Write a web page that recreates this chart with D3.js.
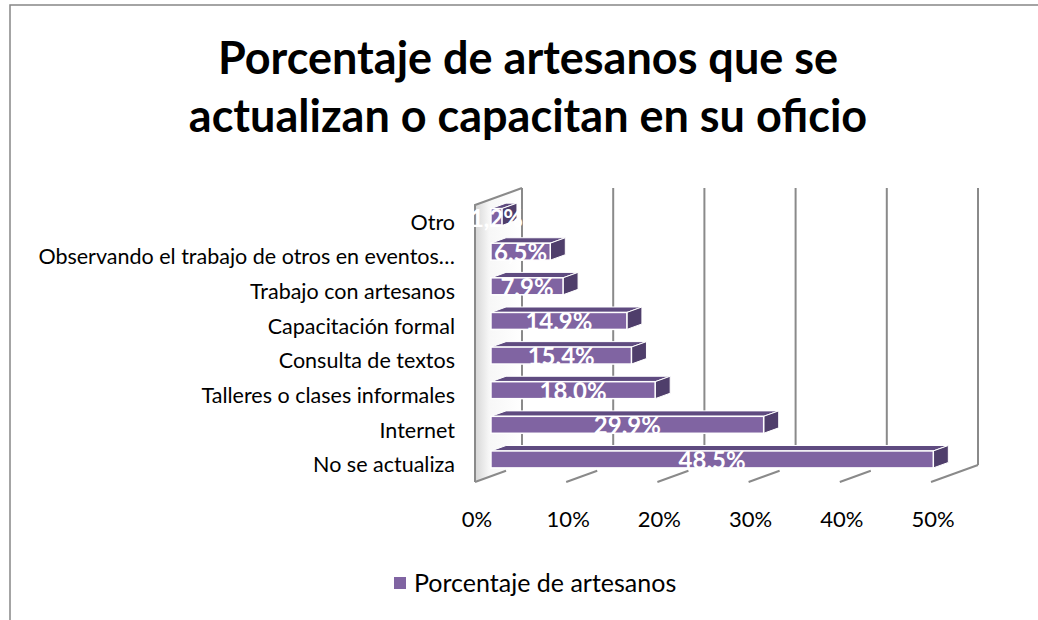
<!DOCTYPE html>
<html>
<head>
<meta charset="utf-8">
<script src="https://cdn.jsdelivr.net/npm/d3@7"></script>
<style>
  body { margin: 0; background: #fff; }
  text { font-family: Lato, "Open Sans", sans-serif; }
</style>
</head>
<body>
<div id="chart"></div>
<script>
// Data, from bottom bar to top bar (as in the reference)
var categories = ['No se actualiza', 'Internet', 'Talleres o clases informales',
    'Consulta de textos', 'Capacitación formal', 'Trabajo con artesanos',
    'Observando el trabajo de otros en eventos…', 'Otro'];
var values = [48.5, 29.9, 18.0, 15.4, 14.9, 7.9, 6.5, 1.2];
var xTicks = [0, 10, 20, 30, 40, 50];
var titleLines = ['Porcentaje de artesanos que se', 'actualizan o capacitan en su oficio'];
var seriesName = 'Porcentaje de artesanos';

var W = 1038, H = 620;
var purple = '#8064a2', purpleTop = '#5f4b80', purpleSide = '#4f3e6b', gridColor = '#8a8a8a';

var svg = d3.select('#chart').append('svg').attr('width', W).attr('height', H);

// outer chart border (cut off at right / bottom like the source)
svg.append('rect').attr('x', 10).attr('y', 5).attr('width', W + 20).attr('height', H + 20)
    .attr('fill', 'none').attr('stroke', '#878787').attr('stroke-width', 1.5);

// title
svg.append('g').selectAll('text').data(titleLines).enter().append('text')
    .attr('x', 528).attr('y', function(d, i) {return 74 + i * 58;})
    .attr('text-anchor', 'middle')
    .style('font-size', '45px').style('font-weight', 'bold').style('fill', '#000')
    .text(function(d) {return d;});

// front plane scales, depth is an oblique offset towards the back wall
var x = d3.scaleLinear().domain([0, 50]).range([475, 931]);
var y = d3.scaleBand().domain(categories.slice().reverse()).range([205, 482]);
var depthX = 47, depthY = -17;
function off(d) { return [depthX * d, depthY * d]; }

var yTop = y.range()[0], yBot = y.range()[1];

// left side wall with a soft grey shade
var defs = svg.append('defs');
var grad = defs.append('linearGradient').attr('id', 'wallShade')
    .attr('x1', '0%').attr('x2', '100%').attr('y1', '0%').attr('y2', '0%');
grad.append('stop').attr('offset', '0%').attr('stop-color', '#d6d6d6');
grad.append('stop').attr('offset', '30%').attr('stop-color', '#f7f7f7');
grad.append('stop').attr('offset', '100%').attr('stop-color', '#ffffff');

var x0 = x(0);
svg.append('path')
    .attr('d', 'M' + x0 + ',' + yBot + 'L' + x0 + ',' + yTop +
        'L' + (x0 + depthX) + ',' + (yTop + depthY) +
        'L' + (x0 + depthX) + ',' + (yBot + depthY) + 'Z')
    .attr('fill', 'url(#wallShade)').attr('stroke', 'none');

// wall outline (front edge + top edge)
svg.append('path')
    .attr('d', 'M' + x0 + ',' + yBot + 'L' + x0 + ',' + yTop + 'L' + (x0 + depthX) + ',' + (yTop + depthY))
    .attr('fill', 'none').attr('stroke', gridColor).attr('stroke-width', 2);

// back wall gridlines
svg.append('g').selectAll('line').data(xTicks).enter().append('line')
    .attr('x1', function(d) {return x(d) + depthX;})
    .attr('x2', function(d) {return x(d) + depthX;})
    .attr('y1', yTop + depthY).attr('y2', yBot + depthY)
    .attr('stroke', gridColor).attr('stroke-width', 2);

// floor lines (front part only, the far end is lost in the shading)
svg.append('g').selectAll('line').data(xTicks).enter().append('line')
    .attr('x1', function(d) {return x(d);})
    .attr('y1', yBot)
    .attr('x2', function(d, i) {return x(d) + depthX * (i === xTicks.length - 1 ? 1 : 0.66);})
    .attr('y2', function(d, i) {return yBot + depthY * (i === xTicks.length - 1 ? 1 : 0.66);})
    .attr('stroke', gridColor).attr('stroke-width', 2);

// x tick labels
svg.append('g').selectAll('text').data(xTicks).enter().append('text')
    .attr('x', function(d) {return x(d) + 2;})
    .attr('y', 527)
    .attr('text-anchor', 'middle')
    .style('font-size', '22px').style('fill', '#000')
    .text(function(d) {return d + '%';});

// category labels
svg.append('g').selectAll('text').data(categories).enter().append('text')
    .attr('x', 455)
    .attr('y', function(d) {return y(d) + y.bandwidth() / 2 + 7.5;})
    .attr('text-anchor', 'end')
    .style('font-size', '21.5px').style('fill', '#000')
    .text(function(d) {return d;});

// 3D bars
var d0 = 0.34, d1 = 0.66;
var bars = svg.append('g').selectAll('g').data(values).enter().append('g');

function faceTop(v, i) {
    var c = categories[i], ya = y(c) + y.bandwidth() * 0.27;
    var a = off(d0), b = off(d1);
    return 'M' + (x(0) + a[0]) + ',' + (ya + a[1]) + 'L' + (x(v) + a[0]) + ',' + (ya + a[1]) +
        'L' + (x(v) + b[0]) + ',' + (ya + b[1]) + 'L' + (x(0) + b[0]) + ',' + (ya + b[1]) + 'Z';
}
function faceSide(v, i) {
    var c = categories[i], ya = y(c) + y.bandwidth() * 0.27, yb = y(c) + y.bandwidth() * 0.76;
    var a = off(d0), b = off(d1);
    return 'M' + (x(v) + a[0]) + ',' + (ya + a[1]) + 'L' + (x(v) + b[0]) + ',' + (ya + b[1]) +
        'L' + (x(v) + b[0]) + ',' + (yb + b[1]) + 'L' + (x(v) + a[0]) + ',' + (yb + a[1]) + 'Z';
}

bars.append('path').attr('d', faceTop)
    .attr('fill', purpleTop).attr('stroke', '#fff').attr('stroke-width', 1).attr('stroke-linejoin', 'round');
bars.append('path').attr('d', faceSide)
    .attr('fill', purpleSide).attr('stroke', '#fff').attr('stroke-width', 1).attr('stroke-linejoin', 'round');
bars.append('rect')
    .attr('x', function(v) {return x(0) + off(d0)[0];})
    .attr('y', function(v, i) {return y(categories[i]) + y.bandwidth() * 0.27 + off(d0)[1];})
    .attr('width', function(v) {return x(v) - x(0);})
    .attr('height', y.bandwidth() * 0.49)
    .attr('fill', purple).attr('stroke', '#fff').attr('stroke-width', 1.5);

// value labels
bars.append('text')
    .attr('x', function(v) {return (x(0) + x(v)) / 2 + off(d0)[0];})
    .attr('y', function(v, i) {return y(categories[i]) + y.bandwidth() * 0.515 + off(d0)[1] + 9.5;})
    .attr('text-anchor', 'middle')
    .style('font-size', '24px').style('font-weight', 'bold').style('fill', '#fff')
    .text(function(v) {return v.toFixed(1).replace('.', ',') + '%';});

// legend
var legend = svg.append('g').attr('transform', 'translate(394,577)');
legend.append('rect').attr('width', 12).attr('height', 12).attr('fill', purple);
legend.append('text').attr('x', 20).attr('y', 14.5)
    .style('font-size', '25px').style('fill', '#000').text(seriesName);
</script>
</body>
</html>
